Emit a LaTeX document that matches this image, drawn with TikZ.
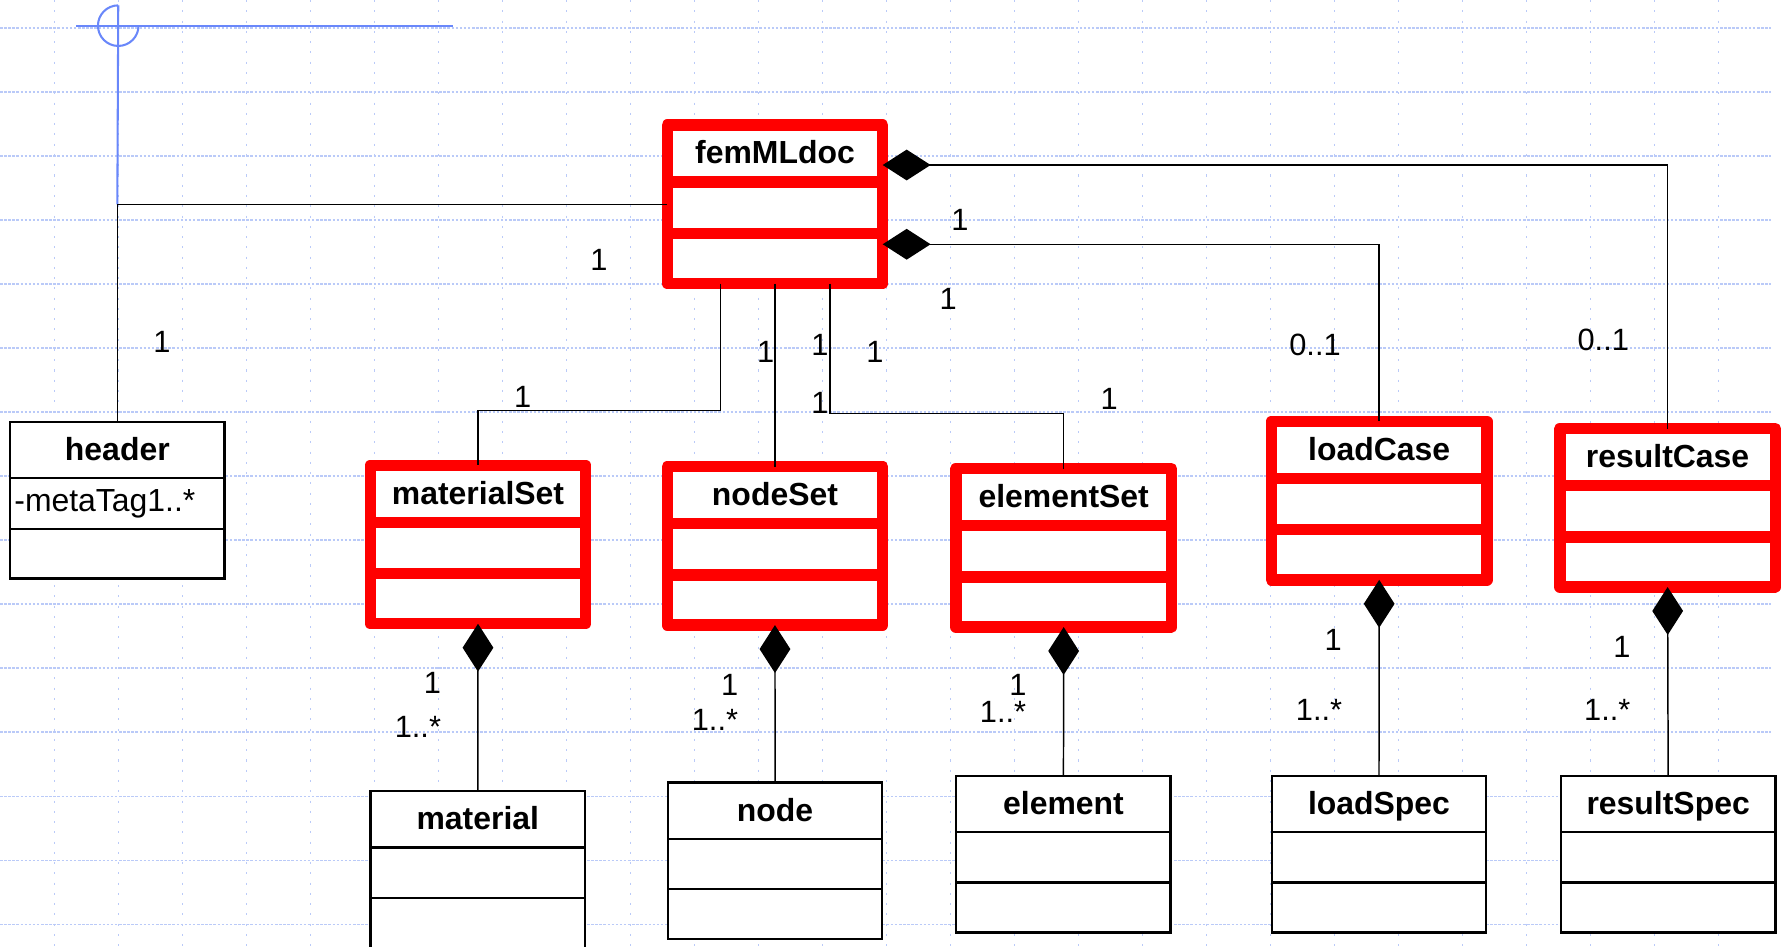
\documentclass[tikz,border=0pt]{standalone}
\usepackage{fontspec}
\setmainfont{Liberation Sans}
\usetikzlibrary{arrows.meta}
\definecolor{gridblue}{RGB}{186,202,248}
\definecolor{anchorblue}{RGB}{105,135,250}

% class box with its name in the top compartment
\newcommand{\umlclass}[5]{%
  \node[#1] (#2) at (#3,#4) {};
  \node[classname] (#2-name) at ([yshift=-17pt]#2.north) {#5};
}

\begin{document}
\begin{tikzpicture}[x=0.5pt, y=-0.5pt,
  redclass/.style={draw=red, fill=white, line width=5pt, line join=round,
    minimum width=94.5pt, minimum height=69.5pt, inner sep=0pt, outer sep=0pt,
    path picture={\draw[red, line width=5pt]
      ([yshift=-25pt]path picture bounding box.north west) -- ([yshift=-25pt]path picture bounding box.north east)
      ([yshift=-47.5pt]path picture bounding box.north west) -- ([yshift=-47.5pt]path picture bounding box.north east);}},
  blackclass/.style={draw=black, fill=white, line width=1.05pt,
    minimum width=94pt, minimum height=68.75pt, inner sep=0pt, outer sep=0pt,
    path picture={\draw[black, line width=1.05pt]
      ([yshift=-24.7pt]path picture bounding box.north west) -- ([yshift=-24.7pt]path picture bounding box.north east)
      ([yshift=-46.85pt]path picture bounding box.north west) -- ([yshift=-46.85pt]path picture bounding box.north east);}},
  classname/.style={font=\bfseries\fontsize{14}{16}\selectfont, anchor=base, inner sep=0pt},
  attrtext/.style={font=\fontsize{14}{16}\selectfont, anchor=base west, inner sep=0pt},
  mult/.style={font=\fontsize{13.5}{16}\selectfont, inner sep=0pt},
  conn/.style={draw=black, line width=0.65pt},
  comp/.style={{Diamond[length=21pt,width=13.5pt]}-},
  hgrid/.style={draw=gridblue, line width=0.55pt, dash pattern=on 1.1pt off 0.7pt},
  vgrid/.style={draw=gridblue, line width=0.6pt, dash pattern=on 0.9pt off 3.6pt},
  anchorline/.style={draw=anchorblue, line width=0.9pt}
]
\useasboundingbox (0,0) rectangle (1568,830);

% background grid
\foreach \k in {0,...,14}
  \draw[hgrid] (0,{24.6+56.13*\k}) -- (1553,{24.6+56.13*\k});
\foreach \k in {0,...,26}
  \draw[vgrid] ({47.6+56.13*\k},0) -- ({47.6+56.13*\k},830);

% classes
\umlclass{redclass}{fem}{679.6}{179.2}{femMLdoc}
\umlclass{redclass}{materialSet}{419.2}{477.5}{materialSet}
\umlclass{redclass}{nodeSet}{679.6}{478.7}{nodeSet}
\umlclass{redclass}{elementSet}{932.8}{480.4}{elementSet}
\umlclass{redclass}{loadCase}{1209.5}{439}{loadCase}
\umlclass{redclass}{resultCase}{1462.4}{445.3}{resultCase}

\umlclass{blackclass}{header}{102.9}{438.7}{header}
\node[attrtext] (header-attr) at ([xshift=1.65pt,yshift=-39.4pt]header.north west) {-metaTag1..*};
\umlclass{blackclass}{material}{419}{762.5}{material}
\umlclass{blackclass}{node}{679.7}{754.9}{node}
\umlclass{blackclass}{element}{932.6}{749}{element}
\umlclass{blackclass}{loadSpec}{1209.3}{749}{loadSpec}
\umlclass{blackclass}{resultSpec}{1462.9}{749}{resultSpec}

% anchor marker
\coordinate (bend) at (header.north |- fem.west);
\coordinate (anctop) at (103.7,4.7);
\draw[anchorline] (67,22.5) -- (397,22.5);
\draw[anchorline] (anctop) arc[start angle=90, end angle=360, radius=8.9pt];
\draw[anchorline] (anctop) -- (bend);

% associations
\draw[conn] (header.north) -- (bend) -- (fem.west);
\draw[conn, comp] ([yshift=17.25pt]fem.east) -| (resultCase.north);
\draw[conn, comp] ([yshift=-17.5pt]fem.east) -| (loadCase.north);
\draw[conn] ([xshift=-23.8pt]fem.south) -- ++(0,-55.75pt) -| (materialSet.north);
\draw[conn] (fem.south) -- (nodeSet.north);
\draw[conn] ([xshift=24.15pt]fem.south) -- ++(0,-56.9pt) -| (elementSet.north);

% compositions
\draw[conn, comp] (materialSet.south) -- (material.north);
\draw[conn, comp] (nodeSet.south) -- (node.north);
\draw[conn, comp] (elementSet.south) -- (element.north);
\draw[conn, comp] (loadCase.south) -- (loadSpec.north);
\draw[conn, comp] (resultCase.south) -- (resultSpec.north);

% multiplicities
\node[mult] (m1) at (525.3,228) {1};
\node[mult] (m2) at (142,299.5) {1};
\node[mult] (m3) at (841.9,192.9) {1};
\node[mult] (m4) at (831.6,262.5) {1};
\node[mult] (m5) at (1153.2,302.5) {0..1};
\node[mult] (m6) at (1406,298.2) {0..1};
\node[mult] (m7) at (458.4,347.9) {1};
\node[mult] (m8) at (671.5,308.4) {1};
\node[mult] (m9) at (719.1,302.6) {1};
\node[mult] (m10) at (767.3,308.4) {1};
\node[mult] (m11) at (719.1,353.7) {1};
\node[mult] (m12) at (972.8,350.2) {1};
\node[mult] (m13) at (379.2,599.2) {1};
\node[mult] (m14) at (366.5,637.2) {1..*};
\node[mult] (m15) at (640,600.7) {1};
\node[mult] (m16) at (627,631.4) {1..*};
\node[mult] (m17) at (892.6,600.7) {1};
\node[mult] (m18) at (879.6,623.9) {1..*};
\node[mult] (m19) at (1169.2,561.3) {1};
\node[mult] (m20) at (1156.7,622.9) {1..*};
\node[mult] (m21) at (1422.4,567.5) {1};
\node[mult] (m22) at (1409.5,622.9) {1..*};
\end{tikzpicture}
\end{document}
